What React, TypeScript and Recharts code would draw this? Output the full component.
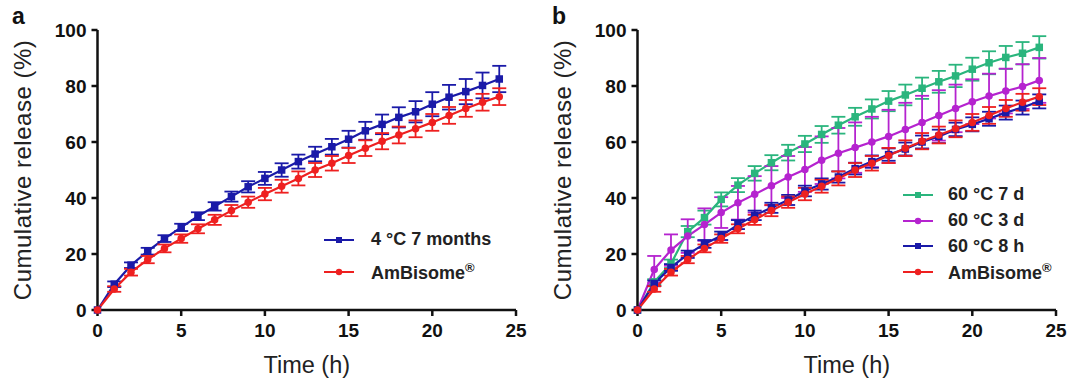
import { LineChart, Line, XAxis, YAxis, ErrorBar, Legend } from "recharts";

// sampling times (h)
const hours = [0, 1, 2, 3, 4, 5, 6, 7, 8, 9, 10, 11, 12, 13, 14, 15, 16, 17, 18, 19, 20, 21, 22, 23, 24];

// AmBisome reference (both panels)
const ambisome = [0, 7.5, 13.5, 18, 22, 25.5, 29, 32.2, 35.5, 38.5, 41.4, 44.2, 47, 50, 52.4, 55.2, 57.8, 60.3, 62.5, 64.7, 67, 69.5, 72, 74.2, 76.2];
const ambisomeErr = [0, 1, 1.2, 1.3, 1.4, 1.5, 1.6, 1.8, 2, 2, 2.2, 2.3, 2.5, 2.5, 2.6, 2.7, 2.8, 2.9, 3, 3, 3, 3, 3, 3, 3];

// panel a: stored 4 °C for 7 months
const months7 = [0, 9.2, 16, 21, 25.5, 29.5, 33.5, 37, 40.5, 44, 47, 50, 53, 55.7, 58.3, 61, 64, 66.3, 68.8, 70.8, 73.5, 76, 78, 80.2, 82.5];
const months7Err = [0, 1, 1, 1.2, 1.2, 1.3, 1.4, 1.5, 1.8, 2, 2.3, 2.4, 2.5, 2.6, 2.8, 3, 3.2, 3.5, 3.6, 3.8, 4.3, 4.4, 4.5, 4.6, 4.7];

// panel b: stressed at 60 °C
const d7 = [0, 10, 16.5, 28, 33, 39.5, 44.6, 48.8, 52.6, 56.2, 59.3, 62.7, 66, 69, 71.8, 74.6, 76.8, 79.2, 81.5, 83.6, 86, 88.3, 90.2, 91.7, 93.8];
const d7Err = [0, 1, 1.5, 2, 2.5, 2.5, 2.5, 2.6, 2.7, 2.8, 2.9, 3, 3, 3.2, 3.4, 3.6, 3.7, 3.8, 3.9, 4, 4.1, 4.1, 4.1, 4, 4];
const d3 = [0, 14.5, 21.4, 26.4, 30.5, 34.8, 38.3, 41.3, 44.4, 47.5, 50.2, 53.5, 56, 58, 60, 62, 64.5, 67, 69.5, 72, 74.4, 76.4, 78.2, 79.8, 82];
const d3Err = [0, 4.8, 5.6, 6, 5.8, 5.5, 6, 6.5, 7, 7.5, 8, 8.5, 9, 9, 9, 9.5, 9.5, 9.5, 9, 8.5, 8, 8, 8, 8, 8];
const h8 = [0, 9.5, 15.2, 19.9, 23.6, 26.5, 30.5, 33.8, 36.5, 39.3, 42.5, 45, 47.5, 50.5, 53, 55.5, 57.5, 60, 62, 64.5, 66.3, 68.3, 70.5, 72.3, 74.5];
const h8Err = [0, 1, 1.2, 1.3, 1.4, 1.5, 1.6, 1.7, 1.8, 1.8, 1.9, 2, 2, 2.1, 2.2, 2.2, 2.3, 2.3, 2.4, 2.4, 2.5, 2.5, 2.5, 2.5, 2.5];

const xTicks = [0, 5, 10, 15, 20, 25];
const yTicks = [0, 20, 40, 60, 80, 100];

const BLUE = "#1a1aa8";
const RED = "#ee2020";
const GREEN = "#2ab57d";
const MAGENTA = "#b523cf";
const FONT = "'Liberation Sans', Arial, sans-serif";

type Series = { key: string; name: string; color: string; shape: "square" | "circle"; values: number[]; err: number[] };

const panelA: Series[] = [
  { key: "m7", name: "4 °C 7 months", color: BLUE, shape: "square", values: months7, err: months7Err },
  { key: "amb", name: "AmBisome®", color: RED, shape: "circle", values: ambisome, err: ambisomeErr },
];

const panelB: Series[] = [
  { key: "d7", name: "60 °C 7 d", color: GREEN, shape: "square", values: d7, err: d7Err },
  { key: "d3", name: "60 °C 3 d", color: MAGENTA, shape: "circle", values: d3, err: d3Err },
  { key: "h8", name: "60 °C 8 h", color: BLUE, shape: "square", values: h8, err: h8Err },
  { key: "amb", name: "AmBisome®", color: RED, shape: "circle", values: ambisome, err: ambisomeErr },
];

function buildRows(series: Series[]) {
  return hours.map((t, i) => {
    const row: Record<string, number> = { t };
    series.forEach((s) => {
      row[s.key] = s.values[i];
      row[s.key + "Err"] = s.err[i];
    });
    return row;
  });
}

function marker(shape: string, color: string, size: number) {
  return (props: any) => {
    const { cx, cy, index } = props;
    if (cx == null || cy == null) return <g key={index} />;
    if (shape === "square")
      return <rect key={index} x={cx - size / 2} y={cy - size / 2} width={size} height={size} fill={color} />;
    return <circle key={index} cx={cx} cy={cy} r={size / 2} fill={color} />;
  };
}

function YTitle(props: any) {
  const { viewBox } = props;
  const cx = viewBox.x + 31;
  const cy = viewBox.y + viewBox.height / 2;
  return (
    <text x={cx} y={cy} transform={`rotate(-90 ${cx} ${cy})`} textAnchor="middle" fontFamily={FONT} fontSize={24} letterSpacing={0.5} fill="#222">
      Cumulative release (%)
    </text>
  );
}

// legend keeps the series order (recharts would sort by name otherwise)
function legendContent(series: Series[], rowH: number, textGap: number) {
  return (props: any) => {
    const payload = props.payload || [];
    return (
      <div style={{ fontFamily: FONT }}>
        {series.map((s) => {
          const entry = payload.find((p: any) => p.dataKey === s.key);
          if (!entry) return null;
          const name = String(entry.value);
          const reg = name.endsWith("®");
          return (
            <div key={s.key} style={{ display: "flex", alignItems: "center", height: rowH }}>
              <svg width={30} height={10} style={{ marginRight: textGap }}>
                <line x1={0} y1={5} x2={30} y2={5} stroke={s.color} strokeWidth={2} />
                {s.shape === "square" ? (
                  <rect x={12} y={2} width={6} height={6} fill={s.color} />
                ) : (
                  <circle cx={15} cy={5} r={3.2} fill={s.color} />
                )}
              </svg>
              <span style={{ fontSize: 18, fontWeight: "bold", color: "#222", whiteSpace: "nowrap" }}>
                {reg ? name.slice(0, -1) : name}
                {reg && <sup style={{ fontSize: 13 }}>®</sup>}
              </span>
            </div>
          );
        })}
      </div>
    );
  };
}

function Panel(props: { series: Series[]; letter: string; legendLeft: number; legendTop: number; rowH: number; textGap: number }) {
  const { series, letter, legendLeft, legendTop, rowH, textGap } = props;
  const data = buildRows(series);
  const axisStyle = { stroke: "#111", strokeWidth: 2.5 };
  const tickStyle = { fontFamily: FONT, fontSize: 19, fontWeight: "bold", fill: "#111" };
  return (
    <div style={{ position: "relative", width: 540, height: 388 }}>
      <LineChart width={540} height={388} data={data} margin={{ top: 30, right: 24, bottom: 0, left: 0 }}>
        <XAxis
          dataKey="t"
          type="number"
          domain={[0, 25]}
          ticks={xTicks}
          height={78}
          axisLine={axisStyle}
          tickLine={axisStyle}
          tickSize={6}
          tickMargin={8}
          tick={tickStyle}
          label={{ value: "Time (h)", position: "insideBottom", offset: 15, style: { fontFamily: FONT, fontSize: 23.5, fill: "#222" } }}
        />
        <YAxis
          type="number"
          domain={[0, 100]}
          ticks={yTicks}
          width={97.5}
          axisLine={axisStyle}
          tickLine={axisStyle}
          tickSize={6}
          tickMargin={5}
          tick={tickStyle}
          label={<YTitle />}
        />
        <Legend
          layout="vertical"
          align="center"
          verticalAlign="middle"
          wrapperStyle={{ left: legendLeft, top: legendTop, width: "auto" }}
          content={legendContent(series, rowH, textGap)}
        />
        {series.map((s) => (
          <Line
            key={s.key}
            dataKey={s.key}
            name={s.name}
            stroke={s.color}
            strokeWidth={2.2}
            dot={marker(s.shape, s.color, 7.5)}
            activeDot={false}
            isAnimationActive={false}
          >
            <ErrorBar dataKey={s.key + "Err"} direction="y" width={7} strokeWidth={1.8} stroke={s.color} isAnimationActive={false} />
          </Line>
        ))}
      </LineChart>
      <div style={{ position: "absolute", left: 12, top: 3, fontFamily: FONT, fontSize: 23, fontWeight: "bold", color: "#111" }}>
        {letter}
      </div>
    </div>
  );
}

export default function App() {
  return (
    <div style={{ position: "absolute", left: 0, top: 0, width: 1080, height: 388, background: "#fff", display: "flex" }}>
      <Panel series={panelA} letter="a" legendLeft={324} legendTop={224} rowH={31.7} textGap={17} />
      <Panel series={panelB} letter="b" legendLeft={363} legendTop={182} rowH={25.7} textGap={15} />
    </div>
  );
}
